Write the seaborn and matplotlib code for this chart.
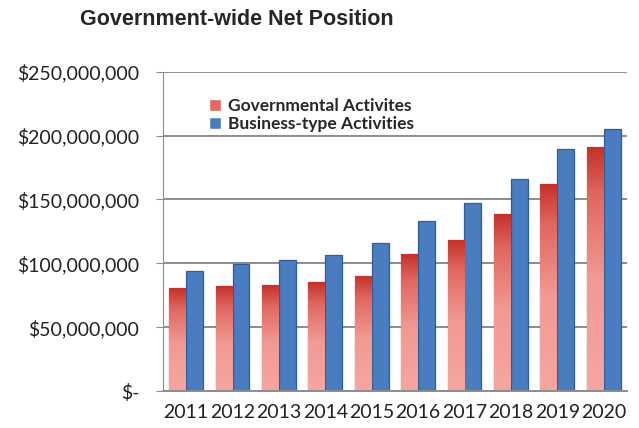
import numpy as np
import pandas as pd
import matplotlib
matplotlib.use('Agg')
import matplotlib.pyplot as plt
from matplotlib.colors import LinearSegmentedColormap
import seaborn as sns

years = ['2011', '2012', '2013', '2014', '2015', '2016', '2017', '2018', '2019', '2020']
governmental = [80.4, 81.9, 82.7, 85.3, 90.3, 107.3, 118.3, 138.7, 162.3, 191.1]
business = [93.7, 99.5, 102.9, 106.3, 115.7, 133.0, 147.4, 165.7, 189.3, 205.5]
series_names = ['Governmental Activites', 'Business-type Activities']

df = pd.DataFrame({
    'year': years * 2,
    'value': [v * 1e6 for v in governmental + business],
    'series': [series_names[0]] * len(years) + [series_names[1]] * len(years),
})

sns.set_style('white')
plt.rcParams['font.family'] = ['Lato', 'DejaVu Sans']

fig = plt.figure(figsize=(6.39, 4.28), dpi=100)
ax = fig.add_axes([0.255, 0.0864, 0.726, 0.746])

palette = {series_names[0]: '#EC8680', series_names[1]: '#4A7DC0'}
sns.barplot(data=df, x='year', y='value', hue='series', palette=palette,
            width=0.73, saturation=1, ax=ax)

# red bars get a vertical shade, dark at the top, pink lower down
red_cmap = LinearSegmentedColormap.from_list(
    'redshade', [(0, '#F6A6A0'), (0.45, '#F29A94'), (0.8, '#E06860'), (1, '#C4302A')])
grad = np.linspace(0, 1, 256).reshape(-1, 1)

edges = {series_names[0]: '#B94A44', series_names[1]: '#2F5C95'}
for cont, name in zip(ax.containers, series_names):
    for bar in cont:
        bar.set_edgecolor(edges[name])
        bar.set_linewidth(0.9)
        if name == series_names[0]:
            x0, w, h = bar.get_x(), bar.get_width(), bar.get_height()
            im = ax.imshow(grad, cmap=red_cmap, origin='lower', aspect='auto',
                           extent=(x0, x0 + w, 0, h), zorder=bar.get_zorder())
            im.set_clip_path(bar)

ax.set_xlim(-0.5, len(years) - 0.5)
ax.set_ylim(0, 250e6)
ax.set_yticks([0, 50e6, 100e6, 150e6, 200e6, 250e6])
ax.set_yticklabels(['$-', '$50,000,000', '$100,000,000', '$150,000,000',
                    '$200,000,000', '$250,000,000'])
ax.yaxis.grid(True, color='#8c8c8c', linewidth=1.4)
ax.set_axisbelow(True)
ax.set_xlabel('')
ax.set_ylabel('')
for side in ['top', 'right']:
    ax.spines[side].set_visible(False)
ax.spines['left'].set_color('#8c8c8c')
ax.spines['bottom'].set_color('#8c8c8c')
ax.spines['bottom'].set_linewidth(1.4)
ax.tick_params(axis='y', labelsize=14, colors='#8c8c8c', labelcolor='#222222',
               length=5, pad=12, left=True)
ax.tick_params(axis='x', labelsize=14, labelcolor='#222222', length=0, pad=9)

leg = ax.legend(loc='upper left', bbox_to_anchor=(0.085, 0.94), frameon=False,
                handlelength=0.7, handleheight=0.7, handletextpad=0.35,
                labelspacing=0.15, borderaxespad=0,
                prop={'family': ['Lato', 'DejaVu Sans'], 'weight': 'bold', 'size': 12.5})
leg.legend_handles[0].set_facecolor('#E06860')

fig.text(0.371, 0.955, 'Government-wide Net Position', ha='center', va='center',
         fontsize=15.5, fontweight='bold', family=['Liberation Sans', 'DejaVu Sans'])

fig.savefig('out.png', dpi=100)
